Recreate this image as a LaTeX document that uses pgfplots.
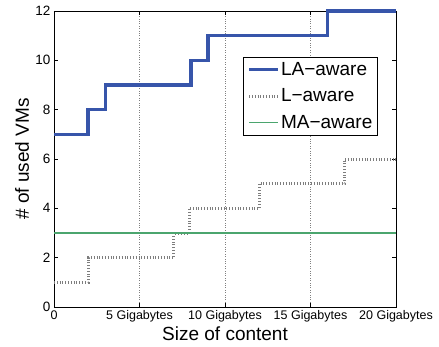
\documentclass[border=0pt]{standalone}
\usepackage{pgfplots}
\pgfplotsset{compat=1.18}
\usepackage{fontspec}
\setmainfont{Liberation Sans}
\definecolor{lablue}{RGB}{55,85,170}
\definecolor{magreen}{RGB}{75,165,110}
\definecolor{lgray}{RGB}{125,125,125}
\begin{document}
\begin{tikzpicture}
\path[use as bounding box] (-54pt,-39pt) rectangle (385pt,307pt);
\begin{axis}[
  at={(0,0)}, anchor=south west,
  scale only axis,
  width=342pt, height=296pt,
  xmin=0, xmax=20, ymin=0, ymax=12,
  xtick={0,5,10,15,20},
  xticklabels={0,5 Gigabytes,10 Gigabytes,15 Gigabytes,20 Gigabytes},
  ytick={0,2,4,6,8,10,12},
  tick align=inside,
  major tick length=4pt,
  xmajorgrids,
  grid style={dotted, gray, line width=0.6pt},
  axis line style={line width=0.9pt},
  tick style={black, line width=0.6pt},
  every tick label/.append style={font=\fontsize{12.5}{13}\selectfont},
  yticklabel style={font=\fontsize{13.5}{14}\selectfont},
  /pgf/number format/assume math mode=true,
  xlabel={Size of content},
  ylabel={\# of used VMs},
  label style={font=\fontsize{19}{21}\selectfont},
  xlabel style={at={(axis description cs:0.5,-0.09)}, anchor=center},
  ylabel style={at={(axis description cs:-0.0936,0.5)}, anchor=center},
  legend style={at={(0.553,0.845)}, anchor=north west, draw=black, line width=0.8pt,
    font=\fontsize{19}{21}\selectfont, row sep=10pt, inner sep=4pt,
    nodes={inner sep=1pt}},
  legend image code/.code={\draw[#1] (0pt,0pt) -- (29pt,0pt);},
  legend cell align=left,
  clip=false,
]
\addplot[const plot, lablue, line width=3.5pt] coordinates {
(0,7) (2,8) (3,9) (8,10) (9,11) (16,12) (20,12)};
\addlegendentry{LA−aware}
\addplot[const plot, lgray, line width=3pt, dash pattern=on 0.9pt off 1.9pt] coordinates {
(0,1) (2,2) (7,3) (7.9,4) (12,5) (17,6) (20,6)};
\addlegendentry{L−aware}
\addplot[magreen, line width=1.2pt] coordinates {(0,3) (20,3)};
\addlegendentry{MA−aware}
\end{axis}
\end{tikzpicture}
\end{document}
